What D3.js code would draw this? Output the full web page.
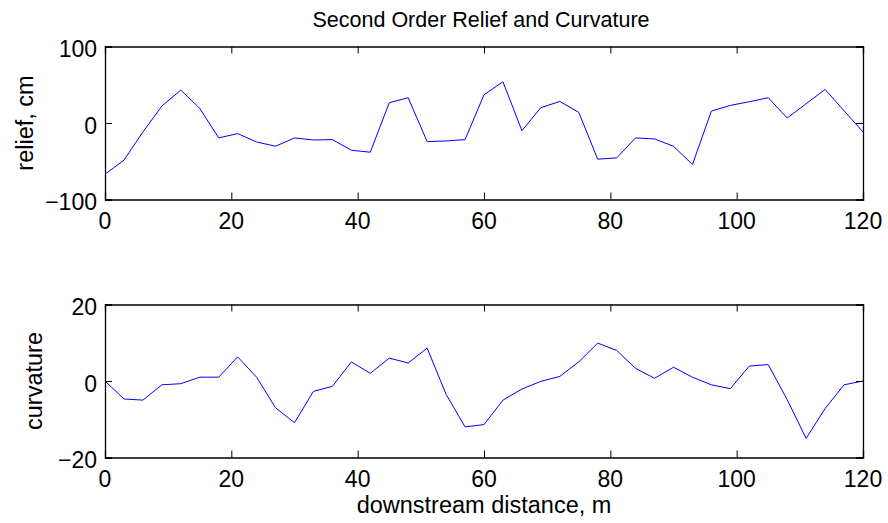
<!DOCTYPE html>
<html>
<head>
<meta charset="utf-8">
<script src="https://cdn.jsdelivr.net/npm/d3@7"></script>
<style>
  html, body { margin: 0; padding: 0; background: #fff; }
  svg { display: block; }
  text { font-family: "Liberation Sans", Arial, Helvetica, sans-serif; fill: #000; }
</style>
</head>
<body>
<svg id="chart" width="888" height="523"></svg>
<script>
// ---- data ----
const distance = [0,3,6,9,12,15,18,21,24,27,30,33,36,39,42,45,48,51,54,57,60,
                  63,66,69,72,75,78,81,84,87,90,93,96,99,102,105,108,111,114,117,120];
const relief = [-67,-48.6,-11.7,22.1,43,19.1,-19.5,-13.9,-24.8,-30.4,-19.5,-22.2,-21.7,-35.6,-38.2,26.5,33,-24.3,-23.5,-21.7,36.9,
                53.9,-10,20,28.2,13.9,-47.3,-45.6,-19.5,-20.8,-30.4,-54.3,15.6,23,27.8,33,6.5,25.2,43.9,16,-11.7];
const curvature = [0,-4.7,-5.0,-1.0,-0.7,1.0,1.0,6.3,1.0,-7.0,-10.9,-2.7,-1.4,5.0,2.0,6.0,4.7,8.6,-3.5,-12.0,-11.4,
                   -5.0,-2.1,-0.1,1.2,5.0,9.9,8.0,3.3,0.7,3.6,1.0,-1.0,-2.0,3.9,4.3,-4.9,-15.0,-7.2,-1.0,0];
const xTicks = [0,20,40,60,80,100,120];
const reliefTicks = [-100,0,100];
const curvTicks = [-20,0,20];
const titleText = "Second Order Relief and Curvature";
const xLabel = "downstream distance, m";
const reliefLabel = "relief, cm";
const curvLabel = "curvature";

// ---- layout ----
const svg = d3.select("#chart");
const left = 105, right = 863;
const x = d3.scaleLinear().domain([0,120]).range([left, right]);
const fmt = d => d < 0 ? "\u2212" + Math.abs(d) : String(d);
const tickLen = 7;

function panel(top, bottom, yDomain, yTicks, values, ylabel, ylabelX) {
  const y = d3.scaleLinear().domain(yDomain).range([bottom, top]);
  const g = svg.append("g");

  // line
  const line = d3.line().x((d,i) => x(distance[i])).y(d => y(d));
  g.append("path").datum(values)
    .attr("d", line).attr("fill","none").attr("stroke","#0000ff").attr("stroke-width",1);

  // axes (inward ticks), MATLAB style box
  const axB = d3.axisBottom(x).tickValues(xTicks).tickSize(-tickLen).tickFormat("");
  const axT = d3.axisTop(x).tickValues(xTicks).tickSize(-tickLen).tickFormat("");
  const axL = d3.axisLeft(y).tickValues(yTicks).tickSize(-tickLen).tickFormat("");
  const axR = d3.axisRight(y).tickValues(yTicks).tickSize(-tickLen).tickFormat("");
  [[axB, `translate(0,${bottom})`],[axT, `translate(0,${top})`],
   [axL, `translate(${left},0)`],[axR, `translate(${right},0)`]].forEach(([ax,tr]) => {
    const a = g.append("g").attr("transform", tr).call(ax);
    a.select(".domain").attr("stroke","#000").attr("stroke-width",1.3);
    a.selectAll(".tick line").attr("stroke","#000").attr("stroke-width",1);
  });

  // tick labels
  g.selectAll(".xl").data(xTicks).enter().append("text")
    .attr("x", d => x(d)).attr("y", bottom + 29)
    .attr("text-anchor","middle").attr("font-size",23).text(d => fmt(d));
  g.selectAll(".yl").data(yTicks).enter().append("text")
    .attr("x", left - 8).attr("y", d => y(d) + 10.5)
    .attr("text-anchor","end").attr("font-size",23).text(d => fmt(d));

  // y label
  g.append("text")
    .attr("transform", `translate(${ylabelX},${(top+bottom)/2}) rotate(-90)`)
    .attr("text-anchor","middle").attr("font-size",23.5).text(ylabel);
}

panel(46.5, 199.5, [-100,100], reliefTicks, relief, reliefLabel, 33);
panel(304.5, 457.5, [-20,20], curvTicks, curvature, curvLabel, 42);

svg.append("text").attr("x", 481).attr("y", 27)
  .attr("text-anchor","middle").attr("font-size",21.5).text(titleText);
svg.append("text").attr("x", 484).attr("y", 513)
  .attr("text-anchor","middle").attr("font-size",23.5).text(xLabel);
</script>
</body>
</html>
